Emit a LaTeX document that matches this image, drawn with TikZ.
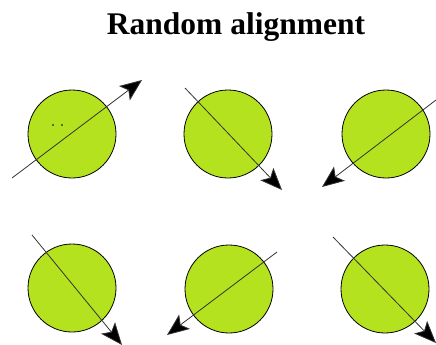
\documentclass[tikz,border=0pt]{standalone}
\usepackage{fontspec}
\setmainfont{Liberation Serif}
\usetikzlibrary{arrows.meta}
\definecolor{ballgreen}{RGB}{180,226,30}
\tikzset{
  ball/.style={circle, draw=black, line width=0.8pt, fill=ballgreen, minimum size=88pt, inner sep=0pt},
  spin/.style={draw=black!80, line width=0.8pt, -{Stealth[length=22pt,width=18pt,inset=5pt,fill=black]}}
}

\begin{document}
\begin{tikzpicture}[x=1pt, y=-1pt]
    \useasboundingbox (0,0) rectangle (436,345);

    % Title
    \node (title) at (236,27) {\fontsize{31.5}{36}\selectfont\bfseries Random alignment};

    % Upper row
    \node[ball] (b1) at (72,134) {};
    \node[ball] (b2) at (228,134) {};
    \node[ball] (b3) at (386,134) {};
    \fill (b1) ++(-19,-9) circle (0.9) ++(9,0) circle (0.9);

    % Lower row
    \node[ball] (b4) at (72,288) {};
    \node[ball] (b5) at (229,289) {};
    \node[ball] (b6) at (385,289) {};

    % Spin directions
    \coordinate (s1) at (12,178);  \coordinate (e1) at (142,80);
    \coordinate (s2) at (185,88);  \coordinate (e2) at (282,190);
    \coordinate (s3) at (436,100); \coordinate (e3) at (322,187);
    \coordinate (s4) at (32,235);  \coordinate (e4) at (122,345);
    \coordinate (s5) at (277,252); \coordinate (e5) at (167,335);
    \coordinate (s6) at (333,237); \coordinate (e6) at (436,343);
    \foreach \i in {1,...,6}
        \draw[spin] (s\i) -- (e\i);
\end{tikzpicture}
\end{document}
